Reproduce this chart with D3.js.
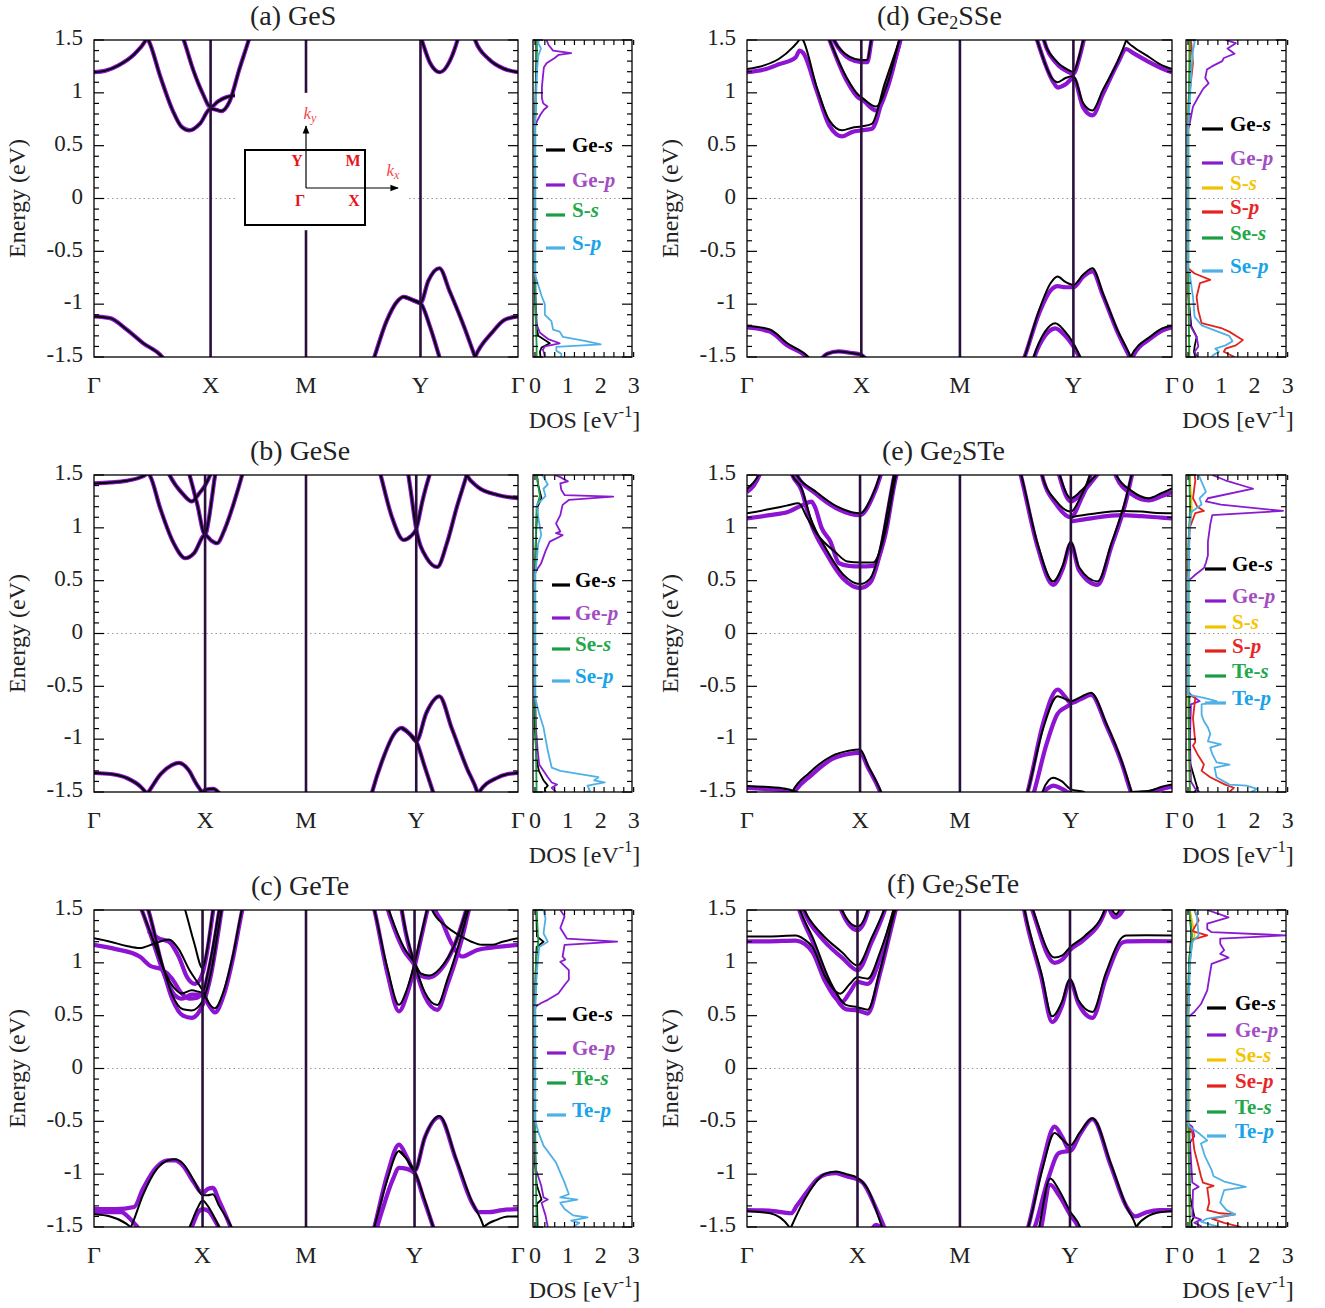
<!doctype html>
<html>
<head>
<meta charset="utf-8">
<title>Band structures and projected DOS</title>
<script src="https://cdn.jsdelivr.net/npm/d3@7"></script>
<style>
  body { margin: 0; background: #fff; }
  svg { font-family: "Liberation Serif", "DejaVu Serif", serif; }
</style>
</head>
<body>
<svg id="chart" width="1325" height="1308"></svg>
<script>
// ---------- shared axis labels ----------
const kLabels = ["Γ", "X", "M", "Y", "Γ"];
const energyTicks = [-1.5, -1, -0.5, 0, 0.5, 1, 1.5];
const dosTicks = [0, 1, 2, 3];

// bands: [k, E] with k = 0 (Γ), 1 (X), 2 (M), 3 (Y), 4 (Γ)
// ---------- (a) GeS ----------
const gesKPos = [0, 0.275, 0.5, 0.770, 1];
const gesBands = [
  [[0,1.195],[0.1,1.21],[0.21,1.26],[0.35,1.37],[0.44,1.49],[0.455,1.52],[0.47,1.49],[0.57,1.15],[0.676,0.83],[0.75,0.68],[0.82,0.645],[0.91,0.71],[1.0,0.85],[1.06,0.84],[1.11,0.827],[1.2,0.92],[1.3,1.22],[1.4,1.5],[1.45,1.65]],
  [[0.72,1.65],[0.77,1.5],[0.85,1.22],[0.93,1.0],[1.0,0.865],[1.08,0.92],[1.17,0.96],[1.25,0.975],[1.35,0.9],[1.5,0.8]],
  [[0,-1.116],[0.137,-1.132],[0.28,-1.24],[0.42,-1.368],[0.586,-1.5],[0.65,-1.6]],
  [[2.55,-1.65],[2.597,-1.5],[2.7,-1.17],[2.8,-0.97],[2.853,-0.93],[2.93,-0.96],[3.0,-0.99],[3.08,-0.78],[3.194,-0.66],[3.3,-0.88],[3.45,-1.22],[3.56,-1.5],[3.6,-1.6]],
  [[2.853,-0.93],[2.93,-0.96],[3.0,-0.99],[3.1,-1.22],[3.194,-1.5],[3.22,-1.58]],
  [[3.5,-1.65],[3.56,-1.5],[3.733,-1.27],[3.862,-1.148],[4,-1.116]],
  [[2.98,1.6],[3.02,1.48],[3.1,1.28],[3.2,1.195],[3.3,1.3],[3.38,1.5],[3.41,1.6]],
  [[3.5,1.7],[3.56,1.5],[3.7,1.32],[3.85,1.23],[4,1.195]]
];
const gesDosGeS = [[1.5,0.04],[1.3,0.04],[1.0,0.02],[0.7,0],[-0.9,0],[-1.2,0.03],[-1.3,0.1],[-1.37,0.45],[-1.41,0.2],[-1.45,0.15],[-1.5,0.17]];
const gesDosGeP = [[1.5,0.35],[1.45,0.42],[1.4,0.55],[1.375,1.1],[1.36,0.72],[1.33,0.6],[1.28,0.35],[1.24,0.27],[1.15,0.24],[1.05,0.21],[0.95,0.21],[0.9,0.25],[0.87,0.38],[0.84,0.27],[0.79,0.16],[0.73,0.06],[0.68,0],[-0.75,0],[-1.0,0.02],[-1.2,0.06],[-1.27,0.15],[-1.33,0.4],[-1.37,0.75],[-1.4,0.3],[-1.43,0.24],[-1.47,0.28],[-1.5,0.3]];
const gesDosSS = [[1.5,0.06],[1.3,0.05],[1.0,0.03],[0.7,0.01],[-0.7,0.01],[-1.2,0.03],[-1.4,0.05],[-1.5,0.05]];
const gesDosSP = [[1.5,0.12],[1.47,0.1],[1.42,0.18],[1.35,0.1],[1.2,0.06],[1.0,0.04],[0.7,0],[-0.72,0],[-0.8,0.08],[-0.92,0.2],[-1.0,0.3],[-1.1,0.3],[-1.16,0.5],[-1.24,0.55],[-1.26,0.75],[-1.31,0.85],[-1.35,1.55],[-1.38,2.0],[-1.405,0.65],[-1.44,0.65],[-1.47,0.8],[-1.5,0.8]];

// ---------- (b) GeSe ----------
const geseKPos = [0, 0.262, 0.5, 0.760, 1];
const geseBands = [
  [[0,1.42],[0.15,1.43],[0.29,1.445],[0.41,1.475],[0.46,1.5],[0.48,1.52],[0.5,1.5],[0.596,1.185],[0.71,0.87],[0.823,0.713],[0.9,0.76],[1.0,0.933],[1.06,0.88],[1.117,0.854],[1.2,1.0],[1.29,1.25],[1.367,1.5],[1.4,1.62]],
  [[0.62,1.65],[0.68,1.5],[0.8,1.32],[0.88,1.25],[0.95,1.33],[1.0,1.4],[1.05,1.5],[1.08,1.58]],
  [[0.8,1.7],[0.86,1.5],[0.93,1.22],[1.0,0.933],[1.04,1.1],[1.07,1.3],[1.1,1.5],[1.13,1.62]],
  [[0,-1.32],[0.15,-1.33],[0.3,-1.37],[0.42,-1.45],[0.48,-1.52]],
  [[0.42,-1.6],[0.49,-1.5],[0.6,-1.33],[0.7,-1.245],[0.766,-1.225],[0.85,-1.29],[0.92,-1.42],[0.97,-1.5],[1.0,-1.55]],
  [[0.96,-1.53],[1.0,-1.48],[1.08,-1.47],[1.15,-1.52]],
  [[2.55,-1.7],[2.6,-1.5],[2.7,-1.18],[2.8,-0.95],[2.866,-0.894],[2.94,-0.95],[3.0,-1.02],[3.1,-0.75],[3.227,-0.595],[3.35,-0.9],[3.5,-1.28],[3.6,-1.5],[3.63,-1.6]],
  [[2.866,-0.894],[2.94,-0.95],[3.0,-1.02],[3.08,-1.25],[3.165,-1.5],[3.2,-1.6]],
  [[3.55,-1.65],[3.62,-1.5],[3.785,-1.37],[3.9,-1.33],[4,-1.32]],
  [[2.6,1.8],[2.677,1.5],[2.78,1.1],[2.886,0.885],[2.95,0.92],[3.0,0.99],[3.06,1.25],[3.1,1.4],[3.13,1.5],[3.15,1.58]],
  [[2.9,1.7],[2.95,1.35],[3.0,0.99],[3.1,0.72],[3.207,0.63],[3.3,0.85],[3.4,1.2],[3.496,1.5],[3.52,1.58]],
  [[3.45,1.6],[3.496,1.5],[3.6,1.39],[3.8,1.31],[4,1.28]]
];
const geseDosGeS = [[1.5,0.06],[1.4,0.1],[1.28,0.2],[1.2,0.08],[1.0,0.04],[0.6,0],[-0.9,0],[-1.2,0.05],[-1.3,0.12],[-1.39,0.26],[-1.44,0.39],[-1.47,0.3],[-1.5,0.32]];
const geseDosGeP = [[1.5,0.6],[1.48,0.77],[1.44,1.0],[1.42,0.77],[1.36,0.8],[1.31,0.9],[1.295,2.38],[1.264,1.03],[1.217,0.84],[1.12,0.77],[1.04,0.64],[0.965,0.77],[0.95,0.64],[0.93,0.84],[0.87,0.45],[0.78,0.32],[0.666,0.19],[0.587,0.02],[0.55,0],[-0.6,0],[-0.9,0.03],[-1.1,0.08],[-1.24,0.13],[-1.36,0.39],[-1.41,0.51],[-1.43,0.67],[-1.46,0.51],[-1.5,0.64]];
const geseDosSeS = [[1.5,0.05],[1.3,0.15],[1.2,0.05],[1.0,0.03],[0.6,0.01],[-0.7,0.01],[-1.3,0.04],[-1.5,0.05]];
const geseDosSeP = [[1.5,0.22],[1.48,0.26],[1.41,0.39],[1.37,0.26],[1.3,0.32],[1.22,0.06],[1.1,0.1],[0.93,0.19],[0.85,0.1],[0.62,0.03],[0.55,0],[-0.6,0],[-0.75,0.12],[-0.89,0.26],[-1.11,0.39],[-1.27,0.51],[-1.3,0.77],[-1.36,1.93],[-1.39,1.8],[-1.41,2.12],[-1.44,1.6],[-1.49,1.67],[-1.5,1.55]];

// ---------- (c) GeTe ----------
const geteKPos = [0, 0.256, 0.5, 0.756, 1];
const geteBlack = [
  [[0,1.232],[0.15,1.2],[0.3,1.16],[0.42,1.14],[0.55,1.18],[0.69,1.22],[0.78,1.13],[0.88,0.93],[0.95,0.82],[1.0,0.74],[1.06,0.62],[1.12,0.57],[1.2,0.72],[1.3,1.1],[1.38,1.5],[1.42,1.65]],
  [[0.36,1.7],[0.44,1.5],[0.55,1.2],[0.65,0.92],[0.74,0.76],[0.81,0.71],[0.9,0.74],[1.0,0.72],[1.05,0.9],[1.1,1.15],[1.16,1.5],[1.2,1.7]],
  [[0.42,1.7],[0.5,1.5],[0.62,1.02],[0.72,0.7],[0.82,0.56],[0.9,0.55],[1.0,0.64],[1.08,0.9],[1.15,1.3],[1.2,1.6]],
  [[0.78,1.7],[0.84,1.5],[0.92,1.2],[1.0,0.95],[1.04,1.1],[1.1,1.5],[1.13,1.7]],
  [[0,-1.38],[0.15,-1.4],[0.3,-1.47],[0.36,-1.52]],
  [[0.28,-1.6],[0.34,-1.5],[0.45,-1.2],[0.58,-0.95],[0.68,-0.87],[0.745,-0.86],[0.82,-0.9],[0.92,-1.06],[1.0,-1.2],[1.05,-1.2],[1.1,-1.19],[1.16,-1.3],[1.28,-1.5],[1.32,-1.6]],
  [[0.82,-1.6],[0.88,-1.5],[0.95,-1.33],[1.0,-1.25],[1.05,-1.3],[1.12,-1.42],[1.17,-1.52]],
  [[2.55,1.8],[2.63,1.5],[2.75,0.95],[2.857,0.603],[2.93,0.75],[3.0,0.996],[3.06,1.25],[3.12,1.5],[3.15,1.62]],
  [[2.85,1.7],[2.92,1.3],[3.0,0.996],[3.1,0.72],[3.22,0.6],[3.32,0.85],[3.45,1.25],[3.52,1.5],[3.55,1.6]],
  [[2.7,1.7],[2.78,1.45],[2.9,1.15],[3.0,1.0],[3.06,0.9],[3.14,0.88],[3.25,0.95],[3.4,1.2],[3.5,1.5]],
  [[3.1,1.7],[3.17,1.5],[3.3,1.35],[3.45,1.25],[3.55,1.2],[3.65,1.17],[3.75,1.17],[3.85,1.2],[4,1.232]],
  [[2.55,-1.8],[2.63,-1.5],[2.75,-1.05],[2.857,-0.78],[2.93,-0.86],[3.0,-0.97],[3.1,-0.65],[3.24,-0.45],[3.4,-0.85],[3.55,-1.25],[3.67,-1.5],[3.7,-1.6]],
  [[2.857,-0.78],[2.93,-0.86],[3.0,-0.97],[3.09,-1.22],[3.18,-1.5],[3.2,-1.56]],
  [[3.6,-1.7],[3.67,-1.5],[3.8,-1.43],[3.9,-1.4],[4,-1.4]]
];
const getePurple = [
  [[0,1.17],[0.2,1.13],[0.42,1.06],[0.52,0.97],[0.62,0.94],[0.72,0.85],[0.8,0.72],[0.88,0.66],[0.95,0.67],[1.0,0.7],[1.06,0.6],[1.12,0.53],[1.2,0.68],[1.3,1.07],[1.38,1.48],[1.42,1.65]],
  [[0.36,1.7],[0.44,1.5],[0.55,1.18],[0.65,0.88],[0.74,0.7],[0.81,0.66],[0.9,0.7],[1.0,0.7],[1.05,0.88],[1.1,1.12],[1.16,1.48],[1.2,1.7]],
  [[0.42,1.7],[0.5,1.5],[0.62,1.0],[0.72,0.66],[0.82,0.5],[0.9,0.48],[1.0,0.6],[1.08,0.88],[1.15,1.28],[1.2,1.6]],
  [[0.5,1.3],[0.6,1.23],[0.69,1.2],[0.78,1.06],[0.86,0.86],[0.93,0.8],[1.0,0.9],[1.04,1.08],[1.1,1.48],[1.13,1.7]],
  [[0,-1.33],[0.2,-1.33],[0.37,-1.31],[0.45,-1.14],[0.58,-0.93],[0.68,-0.87],[0.745,-0.87],[0.82,-0.92],[0.92,-1.08],[1.0,-1.18],[1.05,-1.14],[1.1,-1.13],[1.16,-1.25],[1.27,-1.5],[1.3,-1.58]],
  [[0,-1.36],[0.25,-1.36],[0.33,-1.42],[0.4,-1.5],[0.45,-1.56]],
  [[0.84,-1.6],[0.9,-1.5],[0.96,-1.36],[1.0,-1.33],[1.06,-1.35],[1.12,-1.44],[1.18,-1.55]],
  [[2.55,1.8],[2.63,1.5],[2.75,0.9],[2.857,0.54],[2.93,0.7],[3.0,0.96],[3.06,1.22],[3.12,1.48],[3.15,1.6]],
  [[2.85,1.7],[2.92,1.28],[3.0,0.97],[3.1,0.68],[3.22,0.555],[3.32,0.8],[3.45,1.2],[3.52,1.48],[3.55,1.6]],
  [[2.7,1.7],[2.78,1.42],[2.9,1.12],[3.0,0.98],[3.06,0.88],[3.14,0.86],[3.25,0.93],[3.4,1.2],[3.5,1.5]],
  [[3.17,1.6],[3.2,1.5],[3.26,1.4],[3.35,1.2],[3.46,1.06],[3.6,1.12],[3.8,1.15],[4,1.17]],
  [[2.55,-1.8],[2.63,-1.5],[2.75,-1.0],[2.857,-0.72],[2.93,-0.84],[3.0,-0.97],[3.1,-0.65],[3.24,-0.46],[3.4,-0.86],[3.55,-1.26],[3.62,-1.36],[3.71,-1.36],[3.85,-1.34],[4,-1.33]],
  [[2.6,-1.7],[2.7,-1.35],[2.8,-1.05],[2.857,-0.94],[2.93,-0.95],[3.0,-0.99],[3.09,-1.24],[3.18,-1.5],[3.2,-1.56]]
];
const geteDosGeS = [[1.5,0.04],[1.25,0.06],[1.2,0.26],[1.15,0.05],[0.9,0.02],[0.6,0],[-0.9,0],[-1.1,0.05],[-1.24,0.2],[-1.28,0.06],[-1.5,0.08]];
const geteDosGeP = [[1.5,0.77],[1.44,0.9],[1.33,0.77],[1.23,0.97],[1.2,2.5],[1.17,0.9],[1.06,0.84],[1.03,0.92],[1.01,0.77],[0.93,1.03],[0.84,1.03],[0.79,0.9],[0.71,0.71],[0.65,0.39],[0.62,0.19],[0.587,0.02],[0.55,0],[-0.8,0],[-0.955,0.03],[-1.11,0.19],[-1.22,0.26],[-1.24,0.39],[-1.27,0.2],[-1.39,0.32],[-1.5,0.39]];
const geteDosTeS = [[1.5,0.05],[1.2,0.1],[1.0,0.03],[0.6,0.01],[-0.6,0.01],[-1.5,0.05]];
const geteDosTeP = [[1.5,0.26],[1.42,0.32],[1.28,0.26],[1.2,0.39],[1.15,0.13],[0.93,0.06],[0.7,0.02],[0.55,0],[-0.48,0],[-0.6,0.1],[-0.73,0.26],[-0.89,0.64],[-1.08,0.9],[-1.19,1.03],[-1.22,0.77],[-1.24,1.29],[-1.27,0.77],[-1.33,0.9],[-1.39,1.16],[-1.41,1.6],[-1.44,1.1],[-1.46,1.35],[-1.5,1.16]];

// ---------- (d) Ge2SSe ----------
const ge2sseKPos = [0, 0.269, 0.501, 0.768, 1];
const ge2sseBlack = [
  [[0,1.226],[0.15,1.26],[0.278,1.32],[0.4,1.43],[0.455,1.5],[0.47,1.53],[0.49,1.5],[0.61,1.053],[0.72,0.739],[0.833,0.645],[0.92,0.67],[1.0,0.682],[1.107,0.707],[1.236,1.085],[1.386,1.5],[1.42,1.6]],
  [[0.67,1.65],[0.722,1.5],[0.87,1.148],[0.98,0.975],[1.0,0.96],[1.15,0.871],[1.27,1.1],[1.386,1.5],[1.42,1.6]],
  [[0.7,1.65],[0.76,1.5],[0.9,1.34],[1.0,1.31],[1.06,1.31],[1.1,1.5],[1.12,1.6]],
  [[0,-1.204],[0.2,-1.24],[0.35,-1.368],[0.537,-1.5],[0.6,-1.58]],
  [[0.62,-1.56],[0.7,-1.47],[0.8,-1.447],[0.9,-1.46],[1.0,-1.48],[1.05,-1.52]],
  [[2.6,1.8],[2.68,1.5],[2.83,1.116],[2.86,1.1],[2.93,1.14],[3.0,1.16],[3.1,0.9],[3.193,0.833],[3.3,1.03],[3.45,1.3],[3.536,1.5],[3.56,1.57]],
  [[2.7,1.7],[2.74,1.5],[2.85,1.3],[2.95,1.22],[3.0,1.2],[3.06,1.35],[3.1,1.5],[3.13,1.6]],
  [[3.5,1.6],[3.536,1.5],[3.6,1.44],[3.75,1.35],[3.9,1.26],[4,1.226]],
  [[2.5,-1.7],[2.57,-1.5],[2.7,-1.05],[2.8,-0.8],[2.86,-0.739],[2.93,-0.79],[3.0,-0.818],[3.1,-0.72],[3.193,-0.66],[3.3,-0.9],[3.45,-1.25],[3.58,-1.5],[3.62,-1.6]],
  [[2.6,-1.7],[2.65,-1.5],[2.75,-1.26],[2.84,-1.18],[2.92,-1.25],[3.0,-1.37],[3.07,-1.5],[3.1,-1.56]],
  [[3.55,-1.65],[3.58,-1.5],[3.79,-1.3],[3.9,-1.23],[4,-1.204]]
];
const ge2ssePurple = [
  [[0,1.195],[0.15,1.22],[0.278,1.27],[0.426,1.336],[0.46,1.4],[0.49,1.38],[0.61,1.02],[0.72,0.69],[0.833,0.588],[0.92,0.63],[1.0,0.645],[1.107,0.66],[1.236,1.02],[1.386,1.46],[1.42,1.58]],
  [[0.67,1.65],[0.722,1.5],[0.87,1.12],[0.98,0.95],[1.0,0.94],[1.15,0.833],[1.27,1.06],[1.386,1.47],[1.42,1.6]],
  [[0.7,1.65],[0.76,1.5],[0.9,1.32],[1.0,1.29],[1.06,1.29],[1.1,1.48],[1.12,1.6]],
  [[0,-1.22],[0.2,-1.26],[0.35,-1.39],[0.52,-1.5],[0.58,-1.58]],
  [[0.62,-1.56],[0.7,-1.47],[0.8,-1.447],[0.9,-1.46],[1.0,-1.48],[1.05,-1.52]],
  [[2.6,1.8],[2.68,1.5],[2.83,1.09],[2.86,1.05],[2.93,1.08],[3.0,1.14],[3.1,0.86],[3.193,0.786],[3.3,0.99],[3.45,1.28],[3.536,1.415],[3.6,1.38],[3.75,1.3],[3.9,1.23],[4,1.195]],
  [[2.7,1.7],[2.74,1.5],[2.85,1.28],[2.95,1.2],[3.0,1.18],[3.06,1.33],[3.1,1.48],[3.13,1.6]],
  [[2.5,-1.7],[2.57,-1.5],[2.7,-1.08],[2.8,-0.87],[2.86,-0.83],[2.93,-0.84],[3.0,-0.84],[3.1,-0.74],[3.193,-0.69],[3.3,-0.92],[3.45,-1.27],[3.58,-1.52],[3.62,-1.6]],
  [[2.6,-1.7],[2.65,-1.52],[2.75,-1.3],[2.84,-1.23],[2.92,-1.29],[3.0,-1.4],[3.07,-1.52],[3.1,-1.58]],
  [[3.55,-1.65],[3.6,-1.5],[3.79,-1.32],[3.9,-1.25],[4,-1.22]]
];
const ge2sseDosGeS = [[1.5,0.05],[1.2,0.05],[0.9,0.02],[0.65,0],[-0.9,0],[-1.21,0.1],[-1.31,0.26],[-1.4,0.2],[-1.45,0.18],[-1.5,0.22]];
const ge2sseDosGeP = [[1.5,1.13],[1.47,1.44],[1.42,1.19],[1.37,1.4],[1.33,1.08],[1.3,1.03],[1.25,0.72],[1.22,0.57],[1.14,0.52],[1.09,0.62],[1.04,0.46],[0.96,0.31],[0.87,0.15],[0.71,0.05],[0.65,0],[-0.7,0],[-1.0,0.03],[-1.21,0.08],[-1.31,0.26],[-1.4,0.31],[-1.45,0.2],[-1.5,0.29]];
const ge2sseDosSS = [[1.5,0.04],[1.2,0.04],[0.8,0.01],[-0.8,0.01],[-1.5,0.04]];
const ge2sseDosSP = [[1.5,0.08],[1.47,0.1],[1.28,0.15],[1.0,0.05],[0.7,0.01],[0.6,0],[-0.66,0],[-0.71,0.2],[-0.77,0.67],[-0.8,0.36],[-0.93,0.26],[-1.06,0.31],[-1.18,0.41],[-1.23,1.03],[-1.26,1.24],[-1.31,1.5],[-1.34,1.65],[-1.39,1.44],[-1.42,1.13],[-1.45,1.08],[-1.5,1.4]];
const ge2sseDosSeS = [[1.5,0.06],[1.3,0.05],[1.0,0.03],[0.7,0.01],[-0.7,0.01],[-1.3,0.03],[-1.5,0.04]];
const ge2sseDosSeP = [[1.5,0.15],[1.48,0.2],[1.4,0.15],[1.2,0.1],[0.9,0.05],[0.65,0],[-0.68,0],[-0.71,0.05],[-0.93,0.15],[-1.12,0.2],[-1.2,0.41],[-1.25,0.82],[-1.3,1.24],[-1.35,1.34],[-1.39,1.13],[-1.42,0.82],[-1.45,0.93],[-1.48,0.77],[-1.5,0.7]];

// ---------- (e) Ge2STe ----------
const ge2steKPos = [0, 0.266, 0.501, 0.762, 1];
const ge2steBlack = [
  [[0,1.138],[0.213,1.18],[0.35,1.21],[0.457,1.232],[0.53,1.1],[0.625,0.933],[0.775,0.776],[0.888,0.682],[1.0,0.672],[1.13,0.672],[1.25,0.95],[1.36,1.5],[1.4,1.65]],
  [[0.34,1.7],[0.4,1.5],[0.48,1.38],[0.56,1.1],[0.7,0.8],[0.85,0.56],[1.0,0.468],[1.1,0.52],[1.2,0.8],[1.3,1.3],[1.34,1.5],[1.38,1.65]],
  [[0.38,1.7],[0.44,1.5],[0.6,1.35],[0.8,1.2],[1.0,1.138],[1.12,1.3],[1.2,1.5],[1.24,1.62]],
  [[0,1.37],[0.05,1.42],[0.1,1.5],[0.13,1.6]],
  [[0,-1.443],[0.15,-1.45],[0.288,-1.46],[0.44,-1.5],[0.5,-1.55]],
  [[0.36,-1.6],[0.4,-1.5],[0.55,-1.32],[0.75,-1.16],[0.9,-1.11],[1.0,-1.097],[1.08,-1.25],[1.21,-1.5],[1.24,-1.58]],
  [[2.5,1.7],[2.553,1.5],[2.7,0.85],[2.84,0.493],[2.93,0.65],[3.0,0.87],[3.08,0.63],[3.265,0.493],[3.4,0.85],[3.55,1.3],[3.6,1.5],[3.63,1.6]],
  [[2.7,1.7],[2.74,1.5],[2.87,1.25],[3.0,1.154],[3.1,1.3],[3.19,1.5],[3.22,1.6]],
  [[2.85,1.7],[2.9,1.5],[3.0,1.28],[3.1,1.35],[3.2,1.45],[3.3,1.55]],
  [[3.4,1.7],[3.45,1.5],[3.6,1.35],[3.77,1.28],[3.9,1.33],[4,1.374]],
  [[3.0,1.1],[3.2,1.13],[3.5,1.16],[3.7,1.155],[3.85,1.14],[4,1.138]],
  [[2.55,-1.7],[2.61,-1.5],[2.75,-0.9],[2.88,-0.593],[2.95,-0.62],[3.0,-0.64],[3.1,-0.6],[3.2,-0.56],[3.35,-0.85],[3.5,-1.2],[3.6,-1.5],[3.63,-1.6]],
  [[2.72,-1.6],[2.744,-1.5],[2.8,-1.39],[2.84,-1.365],[2.92,-1.4],[3.0,-1.475],[3.13,-1.5],[3.16,-1.55]],
  [[3.55,-1.6],[3.6,-1.5],[3.77,-1.49],[3.9,-1.45],[4,-1.43]]
];
const ge2stePurple = [
  [[0,1.09],[0.2,1.12],[0.36,1.15],[0.5,1.22],[0.57,1.248],[0.6,1.2],[0.66,1.0],[0.738,0.87],[0.813,0.666],[0.9,0.64],[1.0,0.635],[1.13,0.64],[1.25,0.92],[1.36,1.48],[1.4,1.6]],
  [[0.34,1.7],[0.4,1.5],[0.48,1.36],[0.56,1.06],[0.7,0.76],[0.85,0.52],[1.0,0.43],[1.1,0.48],[1.2,0.76],[1.3,1.27],[1.34,1.48],[1.38,1.65]],
  [[0.38,1.7],[0.44,1.5],[0.6,1.33],[0.8,1.18],[1.0,1.12],[1.12,1.28],[1.2,1.48],[1.24,1.62]],
  [[0,1.34],[0.06,1.4],[0.11,1.5],[0.14,1.6]],
  [[0,-1.46],[0.15,-1.47],[0.3,-1.48],[0.42,-1.52]],
  [[0.36,-1.62],[0.42,-1.5],[0.57,-1.34],[0.75,-1.19],[0.9,-1.14],[1.0,-1.13],[1.08,-1.27],[1.21,-1.52],[1.24,-1.6]],
  [[2.5,1.7],[2.553,1.48],[2.7,0.82],[2.84,0.46],[2.93,0.62],[3.0,0.85],[3.08,0.6],[3.265,0.46],[3.4,0.82],[3.55,1.27],[3.6,1.48],[3.63,1.6]],
  [[2.7,1.7],[2.74,1.5],[2.87,1.22],[3.0,1.1],[3.1,1.27],[3.19,1.48],[3.22,1.6]],
  [[2.85,1.7],[2.9,1.48],[3.0,1.25],[3.1,1.32],[3.2,1.43],[3.3,1.55]],
  [[3.4,1.7],[3.45,1.48],[3.6,1.32],[3.77,1.26],[3.9,1.3],[4,1.34]],
  [[3.0,1.06],[3.2,1.09],[3.5,1.12],[3.7,1.11],[3.85,1.1],[4,1.09]],
  [[2.55,-1.7],[2.61,-1.5],[2.75,-0.85],[2.88,-0.53],[2.95,-0.6],[3.0,-0.66],[3.1,-0.62],[3.2,-0.58],[3.35,-0.87],[3.5,-1.22],[3.6,-1.52],[3.63,-1.6]],
  [[2.64,-1.6],[2.668,-1.5],[2.78,-1.05],[2.88,-0.76],[2.95,-0.7],[3.0,-0.67]],
  [[2.72,-1.62],[2.76,-1.5],[2.8,-1.46],[2.84,-1.44],[2.92,-1.47],[3.0,-1.52]],
  [[3.55,-1.62],[3.6,-1.52],[3.77,-1.5],[3.9,-1.47],[4,-1.45]]
];
const ge2steDosGeS = [[1.5,0.05],[1.16,0.08],[0.9,0.02],[0.5,0],[-0.55,0],[-0.6,0.04],[-1.2,0.04],[-1.46,0.28],[-1.5,0.2]];
const ge2steDosGeP = [[1.5,0.73],[1.45,1.12],[1.37,1.96],[1.28,0.6],[1.25,0.54],[1.22,0.99],[1.16,2.86],[1.12,0.73],[1.03,0.67],[0.87,0.6],[0.74,0.6],[0.67,0.54],[0.62,0.48],[0.556,0.22],[0.52,0.09],[0.5,0],[-0.55,0],[-0.58,0.09],[-0.64,0.35],[-0.67,0.09],[-1.0,0.06],[-1.4,0.09],[-1.47,0.22],[-1.5,0.35]];
const ge2steDosSS = [[1.5,0.05],[1.16,0.12],[1.0,0.03],[0.6,0.01],[-0.6,0.01],[-1.5,0.05]];
const ge2steDosSP = [[1.5,0.2],[1.45,0.22],[1.28,0.15],[1.2,0.28],[1.16,0.48],[1.14,0.22],[1.0,0.05],[0.7,0.02],[0.55,0],[-0.55,0],[-0.58,0.03],[-0.61,0.22],[-0.8,0.15],[-1.03,0.22],[-1.06,0.15],[-1.14,0.28],[-1.24,0.48],[-1.3,0.41],[-1.36,0.67],[-1.43,1.12],[-1.46,1.38],[-1.5,1.25]];
const ge2steDosTeS = [[1.5,0.04],[1.2,0.06],[0.8,0.02],[-0.8,0.02],[-1.5,0.06]];
const ge2steDosTeP = [[1.5,0.3],[1.48,0.35],[1.34,0.54],[1.28,0.35],[1.22,0.41],[1.15,0.1],[1.0,0.05],[0.6,0.02],[0.5,0],[-0.56,0],[-0.58,0.03],[-0.61,0.48],[-0.64,0.86],[-0.67,0.41],[-0.77,0.41],[-0.83,0.48],[-0.89,0.6],[-0.95,0.67],[-1.02,0.6],[-1.05,0.99],[-1.08,0.67],[-1.14,0.73],[-1.22,0.86],[-1.24,1.25],[-1.27,0.8],[-1.36,0.86],[-1.43,1.25],[-1.44,1.76],[-1.47,2.08],[-1.5,1.9]];

// ---------- (f) Ge2SeTe ----------
const ge2seteKPos = [0, 0.260, 0.501, 0.760, 1];
const ge2seteBlack = [
  [[0,1.25],[0.2,1.25],[0.44,1.258],[0.52,1.22],[0.594,1.148],[0.709,0.865],[0.843,0.708],[0.93,0.8],[1.0,0.865],[1.1,0.85],[1.22,1.1],[1.35,1.5],[1.39,1.65]],
  [[0.42,1.7],[0.48,1.5],[0.594,1.24],[0.75,0.83],[0.9,0.6],[1.0,0.58],[1.1,0.557],[1.22,0.93],[1.368,1.5],[1.4,1.6]],
  [[0.45,1.7],[0.52,1.5],[0.67,1.28],[0.86,1.1],[1.0,0.975],[1.14,1.24],[1.26,1.5],[1.3,1.6]],
  [[0.8,1.7],[0.86,1.5],[1.0,1.343],[1.1,1.5],[1.13,1.6]],
  [[0,-1.35],[0.21,-1.37],[0.383,-1.5],[0.42,-1.56]],
  [[0.36,-1.6],[0.4,-1.5],[0.555,-1.18],[0.7,-1.0],[0.805,-0.975],[0.9,-1.0],[1.0,-1.035],[1.1,-1.14],[1.24,-1.5],[1.28,-1.6]],
  [[2.55,1.7],[2.587,1.5],[2.74,0.9],[2.838,0.494],[2.93,0.64],[3.0,0.85],[3.08,0.65],[3.22,0.535],[3.35,0.9],[3.51,1.24],[3.55,1.258],[3.75,1.26],[4,1.258]],
  [[2.6,1.7],[2.664,1.5],[2.86,1.05],[2.93,1.07],[3.0,1.148],[3.14,1.25],[3.34,1.5],[3.37,1.6]],
  [[3.38,1.58],[3.45,1.46],[3.52,1.58]],
  [[2.55,-1.7],[2.62,-1.5],[2.75,-0.95],[2.86,-0.61],[2.93,-0.67],[3.0,-0.73],[3.1,-0.6],[3.22,-0.47],[3.4,-0.9],[3.55,-1.3],[3.65,-1.5],[3.68,-1.6]],
  [[2.68,-1.7],[2.72,-1.5],[2.82,-1.04],[2.9,-1.15],[3.0,-1.35],[3.1,-1.5],[3.13,-1.58]],
  [[3.6,-1.6],[3.65,-1.5],[3.76,-1.4],[3.88,-1.36],[4,-1.35]]
];
const ge2setePurple = [
  [[0,1.204],[0.2,1.204],[0.44,1.21],[0.52,1.18],[0.594,1.1],[0.709,0.82],[0.86,0.63],[0.93,0.72],[1.0,0.82],[1.1,0.8],[1.22,1.04],[1.35,1.46],[1.39,1.6]],
  [[0.42,1.7],[0.48,1.48],[0.594,1.2],[0.75,0.78],[0.9,0.56],[1.0,0.55],[1.1,0.52],[1.22,0.9],[1.368,1.48],[1.4,1.6]],
  [[0.45,1.7],[0.52,1.48],[0.67,1.24],[0.86,1.05],[1.0,0.93],[1.14,1.2],[1.26,1.48],[1.3,1.6]],
  [[0.8,1.7],[0.86,1.48],[1.0,1.31],[1.1,1.48],[1.13,1.6]],
  [[0,-1.34],[0.2,-1.345],[0.4,-1.37],[0.45,-1.3],[0.555,-1.15],[0.632,-1.05],[0.72,-1.0],[0.805,-0.99],[0.9,-1.02],[1.0,-1.05],[1.05,-1.08],[1.17,-1.3],[1.26,-1.5],[1.3,-1.6]],
  [[1.12,-1.56],[1.18,-1.48],[1.24,-1.52]],
  [[2.55,1.7],[2.587,1.48],[2.74,0.86],[2.838,0.44],[2.93,0.6],[3.0,0.83],[3.08,0.62],[3.22,0.48],[3.35,0.85],[3.51,1.19],[3.56,1.204],[3.75,1.205],[4,1.204]],
  [[2.6,1.7],[2.664,1.48],[2.86,1.0],[2.93,1.03],[3.0,1.12],[3.14,1.22],[3.34,1.48],[3.37,1.6]],
  [[3.36,1.58],[3.44,1.43],[3.52,1.5],[3.55,1.56]],
  [[2.55,-1.7],[2.62,-1.5],[2.75,-0.9],[2.86,-0.55],[2.93,-0.65],[3.0,-0.78],[3.1,-0.62],[3.22,-0.48],[3.4,-0.92],[3.55,-1.3],[3.64,-1.4],[3.75,-1.36],[3.88,-1.34],[4,-1.34]],
  [[2.64,-1.6],[2.68,-1.5],[2.8,-1.05],[2.9,-0.8],[3.0,-0.78]],
  [[2.7,-1.7],[2.74,-1.5],[2.82,-1.1],[2.9,-1.2],[3.0,-1.38],[3.08,-1.5],[3.11,-1.58]]
];
const ge2seteDosGeS = [[1.5,0.05],[1.26,0.1],[1.0,0.03],[0.5,0],[-0.52,0],[-0.6,0.04],[-1.2,0.05],[-1.4,0.19],[-1.45,0.1],[-1.5,0.12]];
const ge2seteDosGeP = [[1.5,0.58],[1.43,1.22],[1.37,0.58],[1.32,0.58],[1.29,0.71],[1.26,2.96],[1.23,0.97],[1.18,0.97],[1.12,1.09],[1.085,0.97],[1.05,1.22],[0.99,0.71],[0.86,0.64],[0.74,0.58],[0.61,0.39],[0.535,0.19],[0.5,0.06],[0.48,0],[-0.52,0],[-0.55,0.13],[-0.64,0.19],[-0.7,0.06],[-1.08,0.13],[-1.12,0.32],[-1.15,0.15],[-1.4,0.13],[-1.43,0.39],[-1.46,0.19],[-1.49,0.39],[-1.5,0.39]];
const ge2seteDosSeS = [[1.5,0.06],[1.26,0.2],[1.1,0.06],[0.8,0.02],[-0.8,0.02],[-1.5,0.05]];
const ge2seteDosSeP = [[1.5,0.19],[1.4,0.32],[1.3,0.13],[1.26,0.58],[1.22,0.13],[1.0,0.05],[0.6,0.01],[0.5,0],[-0.52,0],[-0.61,0.13],[-0.77,0.19],[-0.93,0.32],[-1.02,0.39],[-1.08,0.45],[-1.11,0.77],[-1.13,0.58],[-1.27,0.64],[-1.34,0.58],[-1.37,0.97],[-1.38,1.42],[-1.42,0.71],[-1.46,1.09],[-1.5,1.6]];
const ge2seteDosTeS = [[1.5,0.04],[1.26,0.12],[1.0,0.03],[0.6,0.01],[-0.6,0.01],[-1.5,0.06]];
const ge2seteDosTeP = [[1.5,0.2],[1.46,0.26],[1.26,0.32],[1.2,0.13],[1.0,0.06],[0.6,0.02],[0.5,0],[-0.52,0],[-0.55,0.04],[-0.61,0.32],[-0.68,0.58],[-0.71,0.39],[-0.83,0.51],[-0.96,0.71],[-1.02,0.77],[-1.07,1.09],[-1.12,1.74],[-1.15,1.09],[-1.27,0.97],[-1.34,1.16],[-1.38,1.42],[-1.42,0.58],[-1.45,0.39],[-1.48,0.71],[-1.5,0.97]];

// ---------- colours ----------
const C = {
  black: "#000000", purple: "#8c14d2", vline: "#2a0f3c",
  geS: "#000000", geP: "#8a1ad0", green: "#1a9e45", blue: "#4fb0e6", red: "#e3211d", yellow: "#f2c200"
};
const T = { geS: "#000000", geP: "#a24ec2", green: "#22a84a", blue: "#19a3e8", red: "#e8262a", yellow: "#f5c400" };

function pdos(el, orb, line, text, data) { return { name: [el, orb], line: line, text: text, data: data }; }

// ---------- panel setup ----------
const panels = [
  { title: "(a) GeS", col: 0, row: 0, titleX: 250, kPos: gesKPos, black: gesBands, purple: gesBands, inset: true,
    legendY: [107, 142, 172, 205], legendX: [13, 32, 39],
    dos: [pdos("Ge","s",C.geS,T.geS,gesDosGeS), pdos("Ge","p",C.geP,T.geP,gesDosGeP), pdos("S","s",C.green,T.green,gesDosSS), pdos("S","p",C.blue,T.blue,gesDosSP)] },
  { title: "(b) GeSe", col: 0, row: 1, titleX: 250, kPos: geseKPos, black: geseBands, purple: geseBands,
    legendY: [107, 140, 171, 203], legendX: [19, 37, 42],
    dos: [pdos("Ge","s",C.geS,T.geS,geseDosGeS), pdos("Ge","p",C.geP,T.geP,geseDosGeP), pdos("Se","s",C.green,T.green,geseDosSeS), pdos("Se","p",C.blue,T.blue,geseDosSeP)] },
  { title: "(c) GeTe", col: 0, row: 2, titleX: 251, kPos: geteKPos, black: geteBlack, purple: getePurple,
    legendY: [106, 140, 170, 202], legendX: [14, 33, 39],
    dos: [pdos("Ge","s",C.geS,T.geS,geteDosGeS), pdos("Ge","p",C.geP,T.geP,geteDosGeP), pdos("Te","s",C.green,T.green,geteDosTeS), pdos("Te","p",C.blue,T.blue,geteDosTeP)] },
  { title: "(d) Ge2SSe", col: 1, row: 0, titleX: 877, titleDy: 0, kPos: ge2sseKPos, black: ge2sseBlack, purple: ge2ssePurple,
    legendY: [86, 120, 145, 169, 195, 228], legendX: [16, 37, 44],
    dos: [pdos("Ge","s",C.geS,T.geS,ge2sseDosGeS), pdos("Ge","p",C.geP,T.geP,ge2sseDosGeP), pdos("S","s",C.yellow,T.yellow,ge2sseDosSS), pdos("S","p",C.red,T.red,ge2sseDosSP), pdos("Se","s",C.green,T.green,ge2sseDosSeS), pdos("Se","p",C.blue,T.blue,ge2sseDosSeP)] },
  { title: "(e) Ge2STe", col: 1, row: 1, titleX: 882, titleDy: 0, kPos: ge2steKPos, black: ge2steBlack, purple: ge2stePurple,
    legendY: [91, 123, 149, 173, 198, 225], legendX: [19, 40, 46],
    dos: [pdos("Ge","s",C.geS,T.geS,ge2steDosGeS), pdos("Ge","p",C.geP,T.geP,ge2steDosGeP), pdos("S","s",C.yellow,T.yellow,ge2steDosSS), pdos("S","p",C.red,T.red,ge2steDosSP), pdos("Te","s",C.green,T.green,ge2steDosTeS), pdos("Te","p",C.blue,T.blue,ge2steDosTeP)] },
  { title: "(f) Ge2SeTe", col: 1, row: 2, titleX: 887, titleDy: -2, kPos: ge2seteKPos, black: ge2seteBlack, purple: ge2setePurple,
    legendY: [95, 122, 147, 173, 199, 223], legendX: [21, 40, 49],
    dos: [pdos("Ge","s",C.geS,T.geS,ge2seteDosGeS), pdos("Ge","p",C.geP,T.geP,ge2seteDosGeP), pdos("Se","s",C.yellow,T.yellow,ge2seteDosSeS), pdos("Se","p",C.red,T.red,ge2seteDosSeP), pdos("Te","s",C.green,T.green,ge2seteDosTeS), pdos("Te","p",C.blue,T.blue,ge2seteDosTeP)] }
];

const colX = [{ band: [94, 518], dos: [533, 632] }, { band: [747, 1172], dos: [1186, 1286] }];
const rowTop = [40, 475, 910];
const plotH = 317;

const svg = d3.select("#chart");
const defs = svg.append("defs");
defs.append("marker").attr("id", "arrow").attr("viewBox", "0 0 10 10").attr("refX", 9).attr("refY", 5)
  .attr("markerWidth", 7).attr("markerHeight", 7).attr("orient", "auto")
  .append("path").attr("d", "M0,1 L10,5 L0,9 z").attr("fill", "#000");

function ticksY(g, xEdge, dir, y) {
  for (let i = -15; i <= 15; i++) {
    const len = i % 5 === 0 ? 10 : 5;
    g.append("line").attr("x1", xEdge).attr("x2", xEdge + dir * len)
      .attr("y1", y(i / 10)).attr("y2", y(i / 10)).attr("stroke", "#000").attr("stroke-width", 1.2);
  }
}

// digits in a formula become subscripts
function titleText(sel, s) {
  let back = 0;
  s.split(/(\d)/).forEach(part => {
    if (!part) return;
    if (/^\d$/.test(part)) {
      sel.append("tspan").attr("font-size", 18).attr("dy", 6).text(part);
      back = -6;
    } else {
      sel.append("tspan").attr("dy", back).text(part);
      back = 0;
    }
  });
}

function drawPanel(p, idx) {
  const c = colX[p.col], top = rowTop[p.row], bottom = top + plotH;
  const bw = c.band[1] - c.band[0];
  const x = d3.scaleLinear().domain([0, 1, 2, 3, 4]).range(p.kPos.map(f => c.band[0] + f * bw));
  const y = d3.scaleLinear().domain([-1.5, 1.5]).range([bottom, top]);
  const xd = d3.scaleLinear().domain([-0.06, 2.95]).range(c.dos);
  const g = svg.append("g");

  const clipB = "clipB" + idx, clipD = "clipD" + idx;
  defs.append("clipPath").attr("id", clipB).append("rect")
    .attr("x", c.band[0]).attr("y", top).attr("width", bw).attr("height", plotH);
  defs.append("clipPath").attr("id", clipD).append("rect")
    .attr("x", c.dos[0]).attr("y", top).attr("width", c.dos[1] - c.dos[0]).attr("height", plotH);

  // Fermi level
  g.append("line").attr("x1", c.band[0]).attr("x2", c.band[1]).attr("y1", y(0)).attr("y2", y(0))
    .attr("stroke", "#999").attr("stroke-width", 1).attr("stroke-dasharray", "1.5,3");
  g.append("line").attr("x1", c.dos[0]).attr("x2", c.dos[1]).attr("y1", y(0)).attr("y2", y(0))
    .attr("stroke", "#999").attr("stroke-width", 1).attr("stroke-dasharray", "1.5,3");

  // bands
  const line = d3.line().x(d => x(d[0])).y(d => y(d[1])).curve(d3.curveMonotoneX);
  const bg = g.append("g").attr("clip-path", `url(#${clipB})`);
  bg.selectAll("path.pu").data(p.purple).join("path").attr("class", "pu")
    .attr("d", line).attr("fill", "none").attr("stroke", C.purple).attr("stroke-width", 4.2)
    .attr("stroke-linejoin", "round");
  bg.selectAll("path.bk").data(p.black).join("path").attr("class", "bk")
    .attr("d", line).attr("fill", "none").attr("stroke", C.black).attr("stroke-width", 2)
    .attr("stroke-linejoin", "round");

  // high-symmetry lines
  g.selectAll("line.hs").data([1, 2, 3]).join("line").attr("class", "hs")
    .attr("x1", d => x(d)).attr("x2", d => x(d)).attr("y1", top).attr("y2", bottom)
    .attr("stroke", C.vline).attr("stroke-width", 2.6);

  if (p.inset) {
    const ox = c.band[0], oy = top;
    g.append("rect").attr("x", ox + 141).attr("y", y(1.0)).attr("width", 174).attr("height", y(-0.3) - y(1.0)).attr("fill", "#fff");
    g.append("rect").attr("x", ox + 151).attr("y", oy + 110).attr("width", 120).attr("height", 75)
      .attr("fill", "none").attr("stroke", "#000").attr("stroke-width", 2);
    g.append("line").attr("x1", ox + 212).attr("y1", oy + 148).attr("x2", ox + 212).attr("y2", oy + 86)
      .attr("stroke", "#000").attr("stroke-width", 1.2).attr("marker-end", "url(#arrow)");
    g.append("line").attr("x1", ox + 212).attr("y1", oy + 148).attr("x2", ox + 304).attr("y2", oy + 148)
      .attr("stroke", "#000").attr("stroke-width", 1.2).attr("marker-end", "url(#arrow)");
    const pts = [["Y", 203, 122], ["M", 259, 122], ["Γ", 206, 162], ["X", 260, 162]];
    pts.forEach(t => g.append("text").attr("x", ox + t[1]).attr("y", oy + t[2]).attr("text-anchor", "middle")
      .attr("dominant-baseline", "middle").attr("font-size", 16).attr("font-weight", "bold").attr("fill", "#e8141c").text(t[0]));
    [["y", 216, 75], ["x", 299, 132]].forEach(t => {
      const tx = g.append("text").attr("x", ox + t[1]).attr("y", oy + t[2]).attr("text-anchor", "middle")
        .attr("dominant-baseline", "middle").attr("font-size", 17).attr("font-style", "italic").attr("fill", "#f0484e");
      tx.append("tspan").text("k");
      tx.append("tspan").attr("font-size", 12).attr("dy", 4).text(t[0]);
    });
  }

  // frames
  g.append("rect").attr("x", c.band[0]).attr("y", top).attr("width", bw).attr("height", plotH)
    .attr("fill", "none").attr("stroke", "#000").attr("stroke-width", 1.3);

  ticksY(g, c.band[0], 1, y);
  ticksY(g, c.band[1], -1, y);

  // energy labels
  g.selectAll("text.ey").data(energyTicks).join("text").attr("class", "ey")
    .attr("x", c.band[0] - 11).attr("y", d => y(d)).attr("text-anchor", "end").attr("dominant-baseline", "middle")
    .attr("font-size", 23).attr("fill", "#222").text(d => String(d));
  g.append("text").attr("transform", `translate(${c.band[0] - 75},${y(0)}) rotate(-90)`)
    .attr("text-anchor", "middle").attr("dominant-baseline", "middle").attr("font-size", 24).attr("fill", "#222")
    .text("Energy (eV)");

  g.selectAll("text.kl").data(kLabels).join("text").attr("class", "kl")
    .attr("x", (d, i) => x(i)).attr("y", bottom + 30).attr("text-anchor", "middle").attr("dominant-baseline", "middle")
    .attr("font-size", 24).attr("fill", "#222").text(d => d);

  const tt = g.append("text").attr("x", p.titleX).attr("y", top - 21 + (p.titleDy || 0)).attr("dominant-baseline", "middle")
    .attr("font-size", 28).attr("fill", "#222");
  titleText(tt, p.title);

  // DOS
  const dg = g.append("g").attr("clip-path", `url(#${clipD})`);
  const dline = d3.line().x(d => xd(d[1])).y(d => y(d[0]));
  p.dos.forEach(s => {
    dg.append("path").attr("d", dline(s.data)).attr("fill", "none").attr("stroke", s.line)
      .attr("stroke-width", 1.8).attr("stroke-linejoin", "round");
  });
  g.append("rect").attr("x", c.dos[0]).attr("y", top).attr("width", c.dos[1] - c.dos[0]).attr("height", plotH)
    .attr("fill", "none").attr("stroke", "#000").attr("stroke-width", 1.3);
  ticksY(g, c.dos[0], 1, y);
  ticksY(g, c.dos[1], -1, y);
  d3.range(0, 3.01, 0.3).forEach(v => {
    g.append("line").attr("x1", xd(v)).attr("x2", xd(v)).attr("y1", bottom).attr("y2", bottom - 5)
      .attr("stroke", "#000").attr("stroke-width", 1.2);
    g.append("line").attr("x1", xd(v)).attr("x2", xd(v)).attr("y1", top).attr("y2", top + 5)
      .attr("stroke", "#000").attr("stroke-width", 1.2);
  });
  g.selectAll("text.dx").data(dosTicks).join("text").attr("class", "dx")
    .attr("x", d => xd(d)).attr("y", bottom + 30).attr("text-anchor", "middle").attr("dominant-baseline", "middle")
    .attr("font-size", 24).attr("fill", "#222").text(d => d);
  const dl = g.append("text").attr("x", (c.dos[0] + c.dos[1]) / 2 + 2).attr("y", bottom + 65)
    .attr("text-anchor", "middle").attr("dominant-baseline", "middle").attr("font-size", 24).attr("fill", "#222");
  dl.append("tspan").text("DOS [eV");
  dl.append("tspan").attr("font-size", 16).attr("dy", -9).text("-1");
  dl.append("tspan").attr("dy", 9).text("]");

  // legend
  p.dos.forEach((s, i) => {
    const ly = top + p.legendY[i];
    g.append("line").attr("x1", c.dos[0] + p.legendX[0]).attr("x2", c.dos[0] + p.legendX[1])
      .attr("y1", ly + 3).attr("y2", ly + 3).attr("stroke", s.line).attr("stroke-width", 3.2);
    const t = g.append("text").attr("x", c.dos[0] + p.legendX[2]).attr("y", ly).attr("dominant-baseline", "middle")
      .attr("font-size", 21).attr("font-weight", "bold").attr("fill", s.text);
    t.append("tspan").text(s.name[0] + "-");
    t.append("tspan").attr("font-style", "italic").text(s.name[1]);
  });
}

panels.forEach(drawPanel);
</script>
</body>
</html>
